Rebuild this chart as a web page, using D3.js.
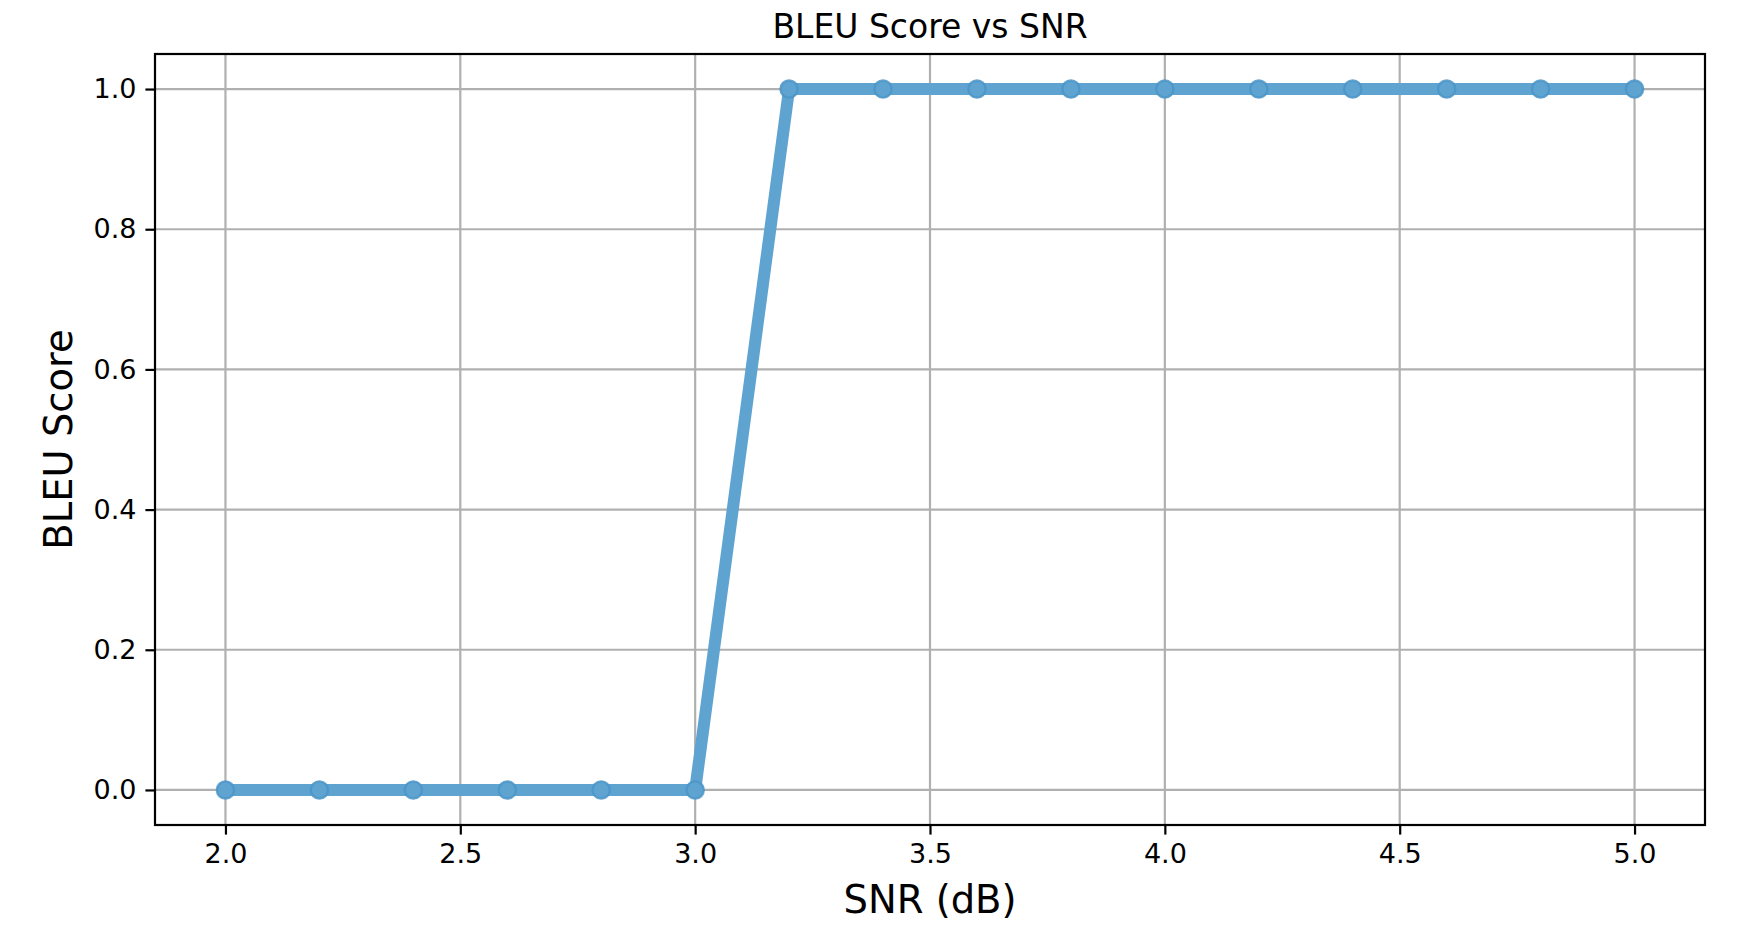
<!DOCTYPE html>
<html>
<head>
<meta charset="utf-8">
<script src="https://cdn.jsdelivr.net/npm/d3@7"></script>
<style>
  html, body { margin: 0; padding: 0; background: #ffffff; }
  svg { display: block; }
  text { font-family: "DejaVu Sans", sans-serif; fill: #000; }
</style>
</head>
<body>
<svg id="chart" width="1756" height="930"></svg>
<script>
// ---- data ----
const snr = [2.0, 2.2, 2.4, 2.6, 2.8, 3.0, 3.2, 3.4, 3.6, 3.8, 4.0, 4.2, 4.4, 4.6, 4.8, 5.0];
const bleu = [0, 0, 0, 0, 0, 0, 1, 1, 1, 1, 1, 1, 1, 1, 1, 1];
const xTicks = [2.0, 2.5, 3.0, 3.5, 4.0, 4.5, 5.0];
const yTicks = [0.0, 0.2, 0.4, 0.6, 0.8, 1.0];
const titleText = "BLEU Score vs SNR";
const xLabel = "SNR (dB)";
const yLabel = "BLEU Score";

// ---- layout ----
const plot = { left: 155, right: 1705, top: 54, bottom: 825 };
const lineColor = "#5fa3d1";
const rimColor = "#4b95c8";

const svg = d3.select("#chart");

const x = d3.scaleLinear().domain([1.85, 5.15]).range([plot.left, plot.right]);
const y = d3.scaleLinear().domain([-0.05, 1.05]).range([plot.bottom, plot.top]);

// grid
const grid = svg.append("g");
grid.selectAll("line.vx").data(xTicks).enter().append("line")
  .attr("x1", d => x(d)).attr("x2", d => x(d))
  .attr("y1", plot.top).attr("y2", plot.bottom)
  .attr("stroke", "#b0b0b0").attr("stroke-width", 2.2);
grid.selectAll("line.hy").data(yTicks).enter().append("line")
  .attr("y1", d => y(d)).attr("y2", d => y(d))
  .attr("x1", plot.left).attr("x2", plot.right)
  .attr("stroke", "#b0b0b0").attr("stroke-width", 2.2);

// line
const line = d3.line().x((d, i) => x(snr[i])).y(d => y(d));
svg.append("path")
  .datum(bleu)
  .attr("d", line)
  .attr("fill", "none")
  .attr("stroke", lineColor)
  .attr("stroke-width", 12)
  .attr("stroke-linejoin", "round")
  .attr("stroke-linecap", "butt");

// markers
svg.selectAll("circle.pt").data(bleu).enter().append("circle")
  .attr("cx", (d, i) => x(snr[i]))
  .attr("cy", d => y(d))
  .attr("r", 8.6)
  .attr("fill", lineColor)
  .attr("stroke", rimColor)
  .attr("stroke-opacity", 0.85)
  .attr("stroke-width", 2.4);

// axes
const xAxis = d3.axisBottom(x).tickValues(xTicks).tickFormat(d3.format(".1f"))
  .tickSize(9.6).tickPadding(9);
const yAxis = d3.axisLeft(y).tickValues(yTicks).tickFormat(d3.format(".1f"))
  .tickSize(9.6).tickPadding(9);

const gx = svg.append("g").attr("transform", `translate(0,${plot.bottom})`).call(xAxis);
const gy = svg.append("g").attr("transform", `translate(${plot.left},0)`).call(yAxis);
[gx, gy].forEach(g => {
  g.select(".domain").remove();
  g.selectAll(".tick line").attr("stroke", "#000").attr("stroke-width", 2.2);
  g.selectAll(".tick text").attr("font-family", "DejaVu Sans, sans-serif")
    .attr("font-size", 27).attr("fill", "#222");
});
gx.selectAll(".tick text").attr("dy", "0.71em");

// frame
svg.append("rect")
  .attr("x", plot.left).attr("y", plot.top)
  .attr("width", plot.right - plot.left).attr("height", plot.bottom - plot.top)
  .attr("fill", "none").attr("stroke", "#000").attr("stroke-width", 2.2);

// title and labels
svg.append("text")
  .attr("x", (plot.left + plot.right) / 2).attr("y", 38)
  .attr("text-anchor", "middle").attr("font-size", 33)
  .text(titleText);

svg.append("text")
  .attr("x", (plot.left + plot.right) / 2).attr("y", 913)
  .attr("text-anchor", "middle").attr("font-size", 38.5)
  .text(xLabel);

svg.append("text")
  .attr("transform", `translate(72,${(plot.top + plot.bottom) / 2}) rotate(-90)`)
  .attr("text-anchor", "middle").attr("font-size", 38.5)
  .text(yLabel);
</script>
</body>
</html>
